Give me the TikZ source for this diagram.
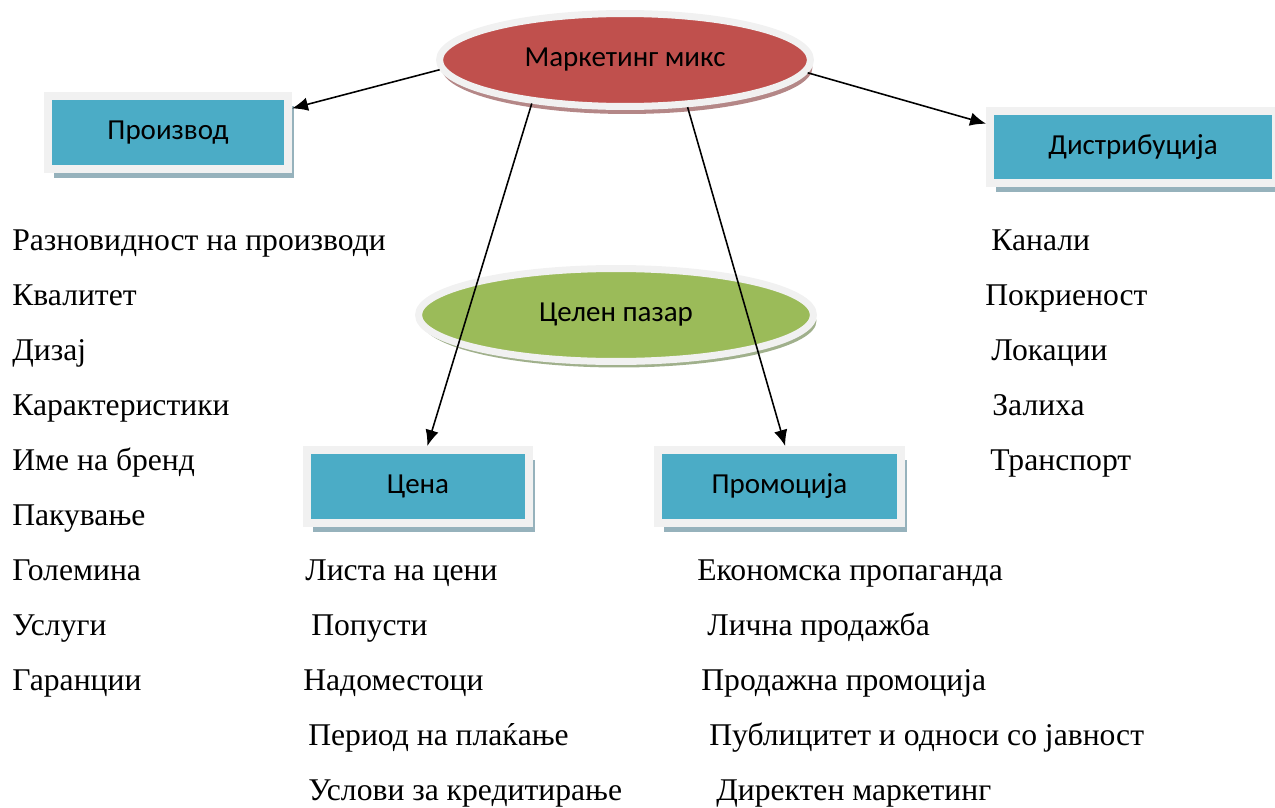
\documentclass[tikz,border=0pt]{standalone}
\usepackage{fontspec}
\setmainfont{Liberation Serif}
\newfontfamily\boxfont{Carlito}
\usepackage{tikz}
\usetikzlibrary{positioning, calc, shapes.geometric, arrows.meta, shadows}
\tikzstyle{Arrow} = [
%custom arrow style:
line width=0.9pt,
-{Latex[length=0.32cm, width=0.27cm]}
]
\definecolor{boxblue}{RGB}{75,172,198}
\definecolor{mixred}{RGB}{192,80,77}
\definecolor{targetgreen}{RGB}{155,187,89}
\definecolor{ringgray}{RGB}{241,241,241}
\definecolor{shblue}{RGB}{150,178,188}
\definecolor{shred}{RGB}{180,135,135}
\definecolor{shgreen}{RGB}{160,176,140}

\begin{document}
\begin{tikzpicture}[x=0.02cm, y=-0.02cm,
				mixbox/.style = {rectangle, fill=boxblue, draw=ringgray, line width=0.16cm, inner sep=0pt,
					font=\boxfont\fontsize{16.5}{20}\selectfont,
					drop shadow={shadow xshift=0.12cm, shadow yshift=-0.19cm, fill=shblue, opacity=1}},
				mixoval/.style = {ellipse, draw=ringgray, line width=0.14cm, inner sep=0pt,
					font=\boxfont\fontsize{16.5}{20}\selectfont},
				item/.style = {anchor=base west, inner sep=0pt, font=\fontsize{18}{22}\selectfont},
			]
			\useasboundingbox (0,0) rectangle (1275,808);

			% ovals
			\node[mixoval, fill=mixred, minimum width=7.42cm, minimum height=1.86cm,
				drop shadow={shadow xshift=0.04cm, shadow yshift=-0.15cm, fill=shred, opacity=1}]
				(MM) at (625,60) {Маркетинг микс};
			\node[mixoval, fill=targetgreen, minimum width=7.9cm, minimum height=1.86cm,
				drop shadow={shadow xshift=0.06cm, shadow yshift=-0.12cm, fill=shgreen, opacity=1}]
				(TM) at (616,315) {Целен пазар};

			% boxes
			\node[mixbox, minimum width=4.8cm, minimum height=1.46cm](P1) at (168,132.5){Производ};
			\node[mixbox, minimum width=5.72cm, minimum height=1.44cm](P4) at (1133,147){Дистрибуција};
			\node[mixbox, minimum width=4.44cm, minimum height=1.46cm](P2) at (418,486.5){Цена};
			\node[mixbox, minimum width=4.86cm, minimum height=1.46cm](P3) at (779.5,486.5){Промоција};

			\draw[Arrow](MM.183)--(P1.11);
			\draw[Arrow](MM.356)--(P4.171);
			\draw[Arrow](MM.205)--(P2.77);
			\draw[Arrow](MM.323)--(P3.82);

			% product list
			\node[item](p1a) at (12,250){Разновидност на производи};
			\node[item](p1b) at (12,305){Квалитет};
			\node[item](p1c) at (12,360){Дизај};
			\node[item](p1d) at (12,415){Карактеристики};
			\node[item](p1e) at (12,470){Име на бренд};
			\node[item](p1f) at (12,525){Пакување};
			\node[item](p1g) at (12,580){Големина};
			\node[item](p1h) at (12,635){Услуги};
			\node[item](p1i) at (12,690){Гаранции};

			% price list
			\node[item](p2a) at (305,580){Листа на цени};
			\node[item](p2b) at (311,635){Попусти};
			\node[item](p2c) at (303,690){Надоместоци};
			\node[item](p2d) at (308,745){Период на плаќање};
			\node[item](p2e) at (308,800){Услови за кредитирање};

			% promotion list
			\node[item](p3a) at (697,580){Економска пропаганда};
			\node[item](p3b) at (707,635){Лична продажба};
			\node[item](p3c) at (701,690){Продажна промоција};
			\node[item](p3d) at (709,745){Публицитет и односи со јавност};
			\node[item](p3e) at (716,800){Директен маркетинг};

			% distribution list
			\node[item](p4a) at (991,250){Канали};
			\node[item](p4b) at (985,305){Покриеност};
			\node[item](p4c) at (991,360){Локации};
			\node[item](p4d) at (992,415){Залиха};
			\node[item](p4e) at (990,470){Транспорт};

		\end{tikzpicture}
\end{document}
